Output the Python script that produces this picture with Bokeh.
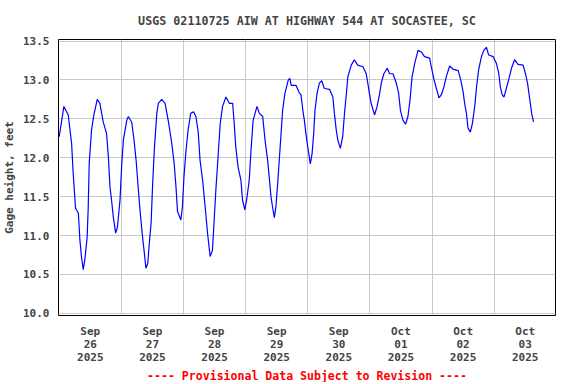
from bokeh.plotting import figure
from bokeh.models import FixedTicker, PrintfTickFormatter, Title, Range1d
from bokeh.embed import file_html
from bokeh.resources import INLINE

# hours since 2025-09-26 00:00 and gage height (feet)
hours = [0.0, 1.8, 3.5, 4.8, 5.4, 6.3, 7.4, 8.0, 8.6, 9.3, 9.9, 10.8, 11.2, 11.6, 12.5, 13.4,
         14.7, 15.7, 17.0, 18.3, 19.0, 19.6, 20.2, 20.9, 21.8, 22.5, 23.5, 24.1, 24.8, 26.1,
         26.7, 28.0, 28.9, 29.7, 30.6, 31.2, 32.2, 32.9, 33.5, 34.2, 34.8, 35.5, 36.1, 36.8,
         37.7, 38.3, 39.6, 40.9, 42.2, 43.5, 44.4, 45.1, 45.7, 47.0, 47.6, 48.2, 49.0, 49.8,
         50.8, 51.9, 52.8, 53.7, 54.4, 55.4, 56.0, 56.6, 57.3, 58.3, 59.2, 59.8, 60.5, 61.2,
         62.2, 63.1, 64.4, 65.7, 67.0, 67.6, 68.2, 69.1, 70.2, 70.8, 71.7, 72.4, 73.4, 74.1,
         74.9, 76.4, 77.3, 78.6, 79.5, 80.5, 81.1, 81.8, 82.4, 83.1, 83.7, 84.4, 85.0, 85.7,
         86.3, 87.2, 88.5, 89.1, 89.6, 91.5, 92.8, 93.4, 94.1, 94.7, 95.3, 96.0, 97.0, 97.7,
         98.3, 98.8, 99.6, 100.5, 101.4, 102.4, 104.4, 105.7, 106.3, 107.0, 107.6, 108.6,
         109.5, 110.2, 110.8, 111.5, 112.8, 114.0, 115.3, 117.3, 118.6, 119.2, 119.8, 120.5,
         121.8, 122.8, 123.7, 124.4, 125.4, 126.7, 127.6, 128.9, 130.2, 131.1, 131.8, 132.8,
         133.8, 134.7, 135.5, 136.3, 137.3, 138.6, 139.9, 141.1, 143.1, 143.7, 144.8, 145.7,
         146.7, 147.6, 148.6, 149.5, 150.8, 152.1, 154.1, 155.1, 156.0, 156.6, 157.3, 157.9,
         158.8, 159.6, 160.5, 161.2, 162.0, 163.1, 164.0, 165.0, 165.9, 167.6, 168.9, 169.8,
         170.4, 171.1, 171.8, 172.7, 173.6, 174.7, 175.9, 177.2, 179.2, 180.1, 180.9, 181.8,
         182.5, 183.2]
gage = [12.27, 12.66, 12.55, 12.18, 11.80, 11.35, 11.29, 10.94, 10.73, 10.56, 10.69, 10.98, 11.35,
        11.93, 12.36, 12.55, 12.75, 12.70, 12.46, 12.31, 12.01, 11.63, 11.46, 11.24, 11.03, 11.11,
        11.46, 11.88, 12.23, 12.48, 12.53, 12.46, 12.23, 11.97, 11.58, 11.33, 10.98, 10.77, 10.58,
        10.64, 10.90, 11.16, 11.67, 12.14, 12.57, 12.70, 12.75, 12.70, 12.46, 12.18, 11.93, 11.63,
        11.31, 11.20, 11.37, 11.76, 12.10, 12.36, 12.57, 12.59, 12.53, 12.33, 11.97, 11.71, 11.50,
        11.29, 11.03, 10.73, 10.81, 11.16, 11.58, 11.93, 12.44, 12.66, 12.78, 12.70, 12.70, 12.44,
        12.14, 11.88, 11.71, 11.46, 11.33, 11.46, 11.71, 12.10, 12.48, 12.66, 12.57, 12.53, 12.23,
        11.97, 11.76, 11.50, 11.37, 11.23, 11.37, 11.67, 11.97, 12.31, 12.61, 12.83, 13.00, 13.02,
        12.93, 12.93, 12.83, 12.81, 12.61, 12.48, 12.31, 12.14, 11.92, 12.06, 12.31, 12.61, 12.83,
        12.96, 12.99, 12.89, 12.88, 12.78, 12.57, 12.36, 12.23, 12.12, 12.27, 12.57, 12.78, 13.04,
        13.19, 13.26, 13.19, 13.17, 13.08, 12.96, 12.83, 12.70, 12.55, 12.66, 12.81, 12.96, 13.08,
        13.15, 13.08, 13.08, 12.96, 12.83, 12.61, 12.48, 12.43, 12.53, 12.74, 13.04, 13.21, 13.38,
        13.36, 13.30, 13.28, 13.17, 13.00, 12.89, 12.77, 12.81, 12.91, 13.04, 13.18, 13.14, 13.12,
        13.00, 12.85, 12.70, 12.57, 12.38, 12.33, 12.44, 12.66, 12.91, 13.13, 13.30, 13.38, 13.42,
        13.32, 13.30, 13.21, 13.08, 12.91, 12.81, 12.78, 12.89, 13.00, 13.15, 13.26, 13.20, 13.19,
        13.08, 12.96, 12.74, 12.57, 12.46]

label_hours = [12, 36, 60, 84, 108, 132, 156, 180]
tick_labels = ["Sep\n26\n2025", "Sep\n27\n2025", "Sep\n28\n2025", "Sep\n29\n2025",
               "Sep\n30\n2025", "Oct\n01\n2025", "Oct\n02\n2025", "Oct\n03\n2025"]
midnights = [24, 48, 72, 96, 120, 144, 168]
y_ticks = [10.0, 10.5, 11.0, 11.5, 12.0, 12.5, 13.0, 13.5]

FONT = "DejaVu Sans Mono"

p = figure(frame_width=497, frame_height=276, output_backend="svg", toolbar_location=None,
           x_range=Range1d(-0.27, 191.7), y_range=Range1d(9.972, 13.52),
           min_border_left=50, min_border_right=13, min_border_top=31, min_border_bottom=50)
p.background_fill_color = "white"
p.border_fill_color = "white"
p.outline_line_color = "black"
p.outline_line_width = 1

p.title.text = "USGS 02110725 AIW AT HIGHWAY 544 AT SOCASTEE, SC"
p.title.align = "center"
p.title.text_font = FONT
p.title.text_font_style = "bold"
p.title.text_font_size = "11.7px"
p.title.padding = 8
p.title.standoff = 7
p.title.offset = 6

p.line(hours, gage, line_color="#0000ff", line_width=1.2)

# axes
p.xaxis.ticker = FixedTicker(ticks=label_hours)
p.xaxis.major_label_overrides = {h: t for h, t in zip(label_hours, tick_labels)}
p.xaxis.major_tick_out = 0
p.xaxis.major_tick_in = 0
p.xaxis.minor_tick_out = 0
p.xaxis.minor_tick_in = 0
p.xaxis.axis_line_color = None
p.xaxis.major_label_standoff = 9
p.xaxis.major_label_text_font = FONT
p.xaxis.major_label_text_font_style = "bold"
p.xaxis.major_label_text_font_size = "11px"
p.xaxis.major_label_text_line_height = 1.0

p.yaxis.ticker = FixedTicker(ticks=y_ticks)
p.yaxis.formatter = PrintfTickFormatter(format="%.1f")
p.yaxis.major_tick_out = 0
p.yaxis.major_tick_in = 0
p.yaxis.minor_tick_out = 0
p.yaxis.minor_tick_in = 0
p.yaxis.axis_line_color = None
p.yaxis.major_label_standoff = 9
p.yaxis.major_label_text_font = FONT
p.yaxis.major_label_text_font_style = "bold"
p.yaxis.major_label_text_font_size = "11px"
p.yaxis.axis_label = "Gage height, feet"
p.yaxis.axis_label_text_font = FONT
p.yaxis.axis_label_text_font_style = "bold"
p.yaxis.axis_label_text_font_size = "11px"
p.yaxis.axis_label_standoff = 4

# grids
p.xgrid.ticker = FixedTicker(ticks=midnights)
p.ygrid.ticker = FixedTicker(ticks=y_ticks)
p.xgrid.grid_line_color = "#c8c8c8"
p.ygrid.grid_line_color = "#c8c8c8"
p.xgrid.grid_line_width = 1
p.ygrid.grid_line_width = 1

footer = Title(text="---- Provisional Data Subject to Revision ----", align="center",
               text_color="#ff0000", text_font=FONT, text_font_style="bold",
               text_font_size="11.55px", standoff=0, offset=-4)
p.add_layout(footer, "below")

open("out.html", "w").write(file_html(p, INLINE))
